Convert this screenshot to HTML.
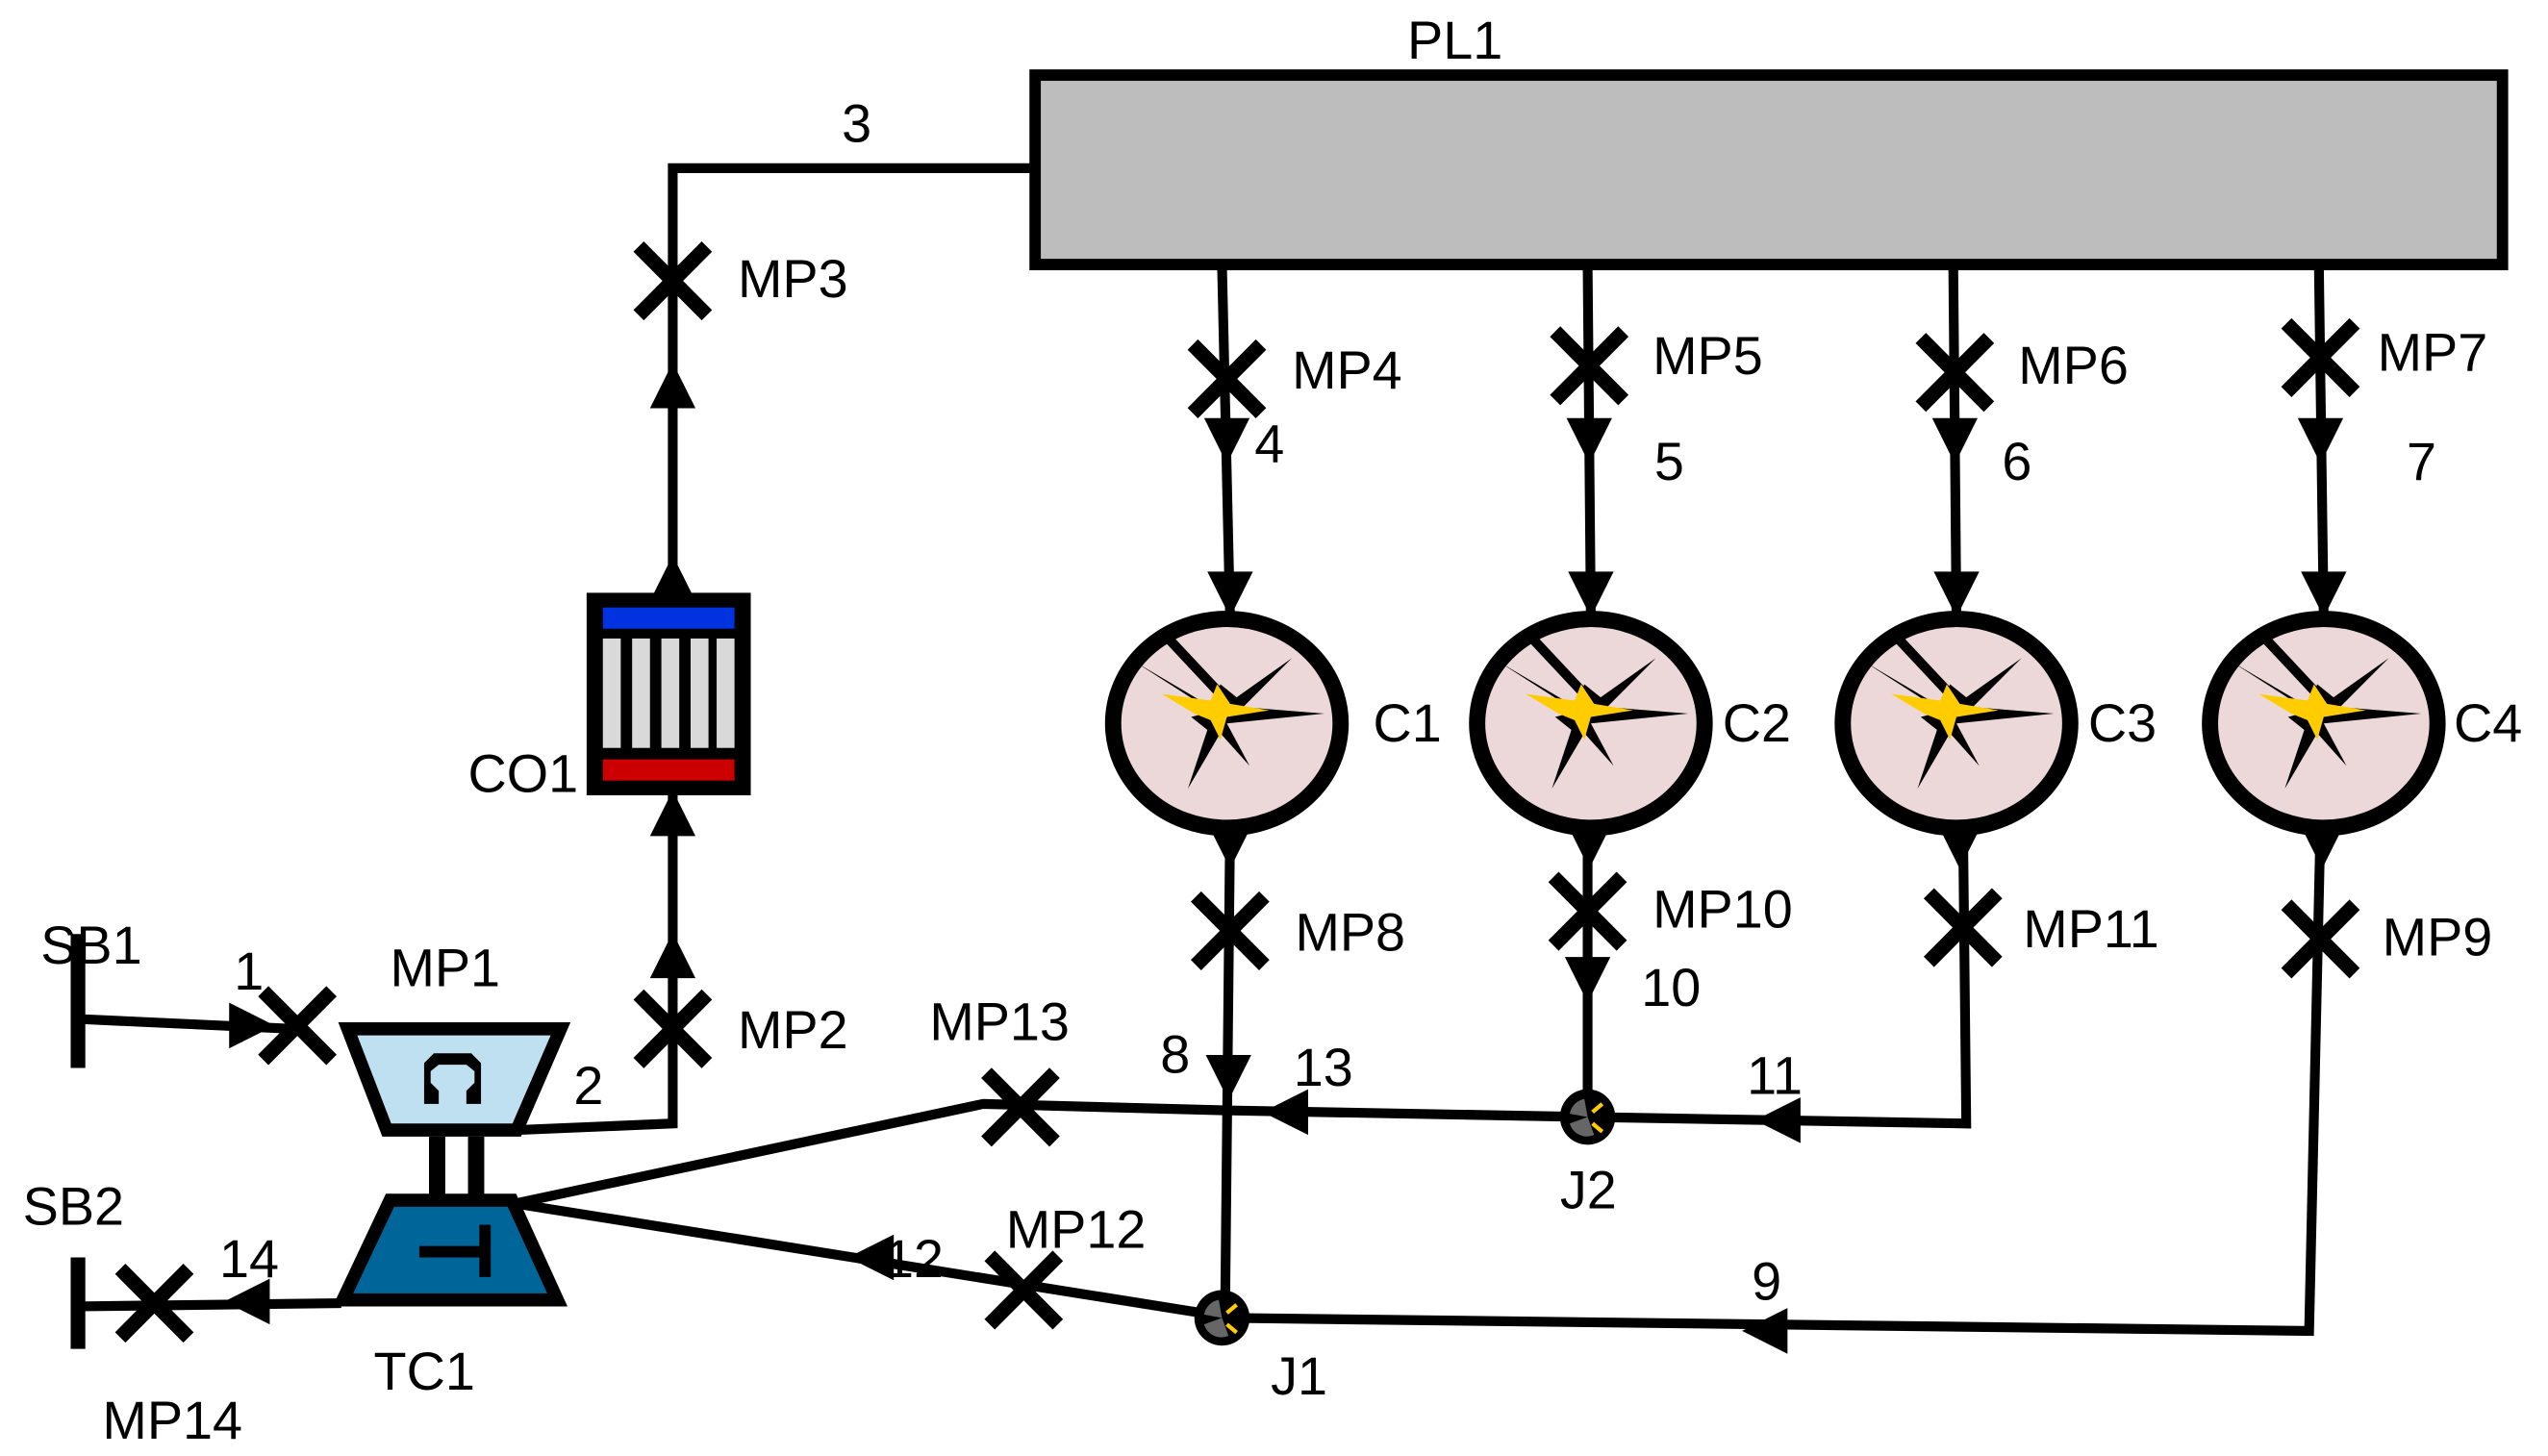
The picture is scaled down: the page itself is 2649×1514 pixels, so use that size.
<!DOCTYPE html>
<html><head><meta charset="utf-8"><style>
html,body{margin:0;padding:0;background:#fff;}
svg{display:block;}
text{font-family:"Liberation Sans",Arial,sans-serif;font-size:33px;fill:#000;}
</style></head><body>
<svg width="2649" height="1514" viewBox="0 0 1568 891.6" preserveAspectRatio="none" xmlns="http://www.w3.org/2000/svg">
<defs>
<g id="x"><line x1="-21" y1="-21" x2="21" y2="21" stroke="#000" stroke-width="9"/><line x1="21" y1="-21" x2="-21" y2="21" stroke="#000" stroke-width="9"/></g>
<polygon id="ad" points="-14,-14 14,-14 0,14" fill="#000"/>
<polygon id="au" points="-14,14 14,14 0,-14" fill="#000"/>
<polygon id="al" points="14,-14 14,14 -14,0" fill="#000"/>
<polygon id="ar" points="-14,-14 -14,14 14,0" fill="#000"/>
<g id="comb">
<ellipse cx="0" cy="0" rx="70" ry="64" fill="#ecd8d8" stroke="#000" stroke-width="10"/>
<polygon points="-57,-38 -10,-8 -4,-24 6,-16 40,-40 10,-10 60,-6 0,0 14,26 -4,6 -24,40 -12,4 -22,-4 -6,-8" fill="#000"/>
<line x1="-36" y1="-52" x2="-4" y2="-18" stroke="#000" stroke-width="6" stroke-linecap="round"/>
<polygon points="-40,-18 -10,-14 -6,-24 2,-12 26,-8 0,-4 -4,10 -10,-2 -20,-6" fill="#ffcc00"/>
</g>
<g id="junc">
<circle r="17" fill="#000"/>
<path d="M0,0 L-11,-2 A11,11 0 0 1 -2,-11 Z" fill="#666"/>
<path d="M0,0 L-11,4 A11,11 0 0 0 4,11 Z" fill="#666"/>
<line x1="3" y1="-3" x2="9" y2="-8" stroke="#ffcc00" stroke-width="2.5"/>
<line x1="3" y1="4" x2="9" y2="9" stroke="#ffcc00" stroke-width="2.5"/>
</g>
</defs>
<g stroke="#000" stroke-width="6" fill="none">
<polyline points="637,103 414,103 414,362"/>
<polyline points="318,692 414,688 414,487"/>
<line x1="752" y1="162" x2="757" y2="380"/>
<line x1="977" y1="162" x2="979" y2="380"/>
<line x1="1202" y1="162" x2="1204" y2="380"/>
<line x1="1427" y1="162" x2="1430" y2="380"/>
<line x1="757" y1="505" x2="754" y2="795"/>
<line x1="977" y1="505" x2="977" y2="672"/>
<polyline points="978,684 1210,688 1208,505"/>
<polyline points="317,737 605,676 757,680 978,684"/>
<line x1="317" y1="737" x2="752" y2="806"/>
<polyline points="752,807 1421,815 1428,505"/>
<line x1="48" y1="624" x2="180" y2="630"/>
<line x1="48" y1="800" x2="210" y2="798"/>
</g>
<line x1="48" y1="572" x2="48" y2="654" stroke="#000" stroke-width="9"/>
<line x1="48" y1="770" x2="48" y2="826" stroke="#000" stroke-width="9"/>
<rect x="637" y="46" width="903" height="116" fill="#bdbdbd" stroke="#000" stroke-width="7"/>
<rect x="361" y="363" width="101" height="124" fill="#000"/>
<rect x="371" y="372" width="81" height="13" fill="#0033e0"/>
<rect x="371" y="465" width="81" height="13" fill="#cc0000"/>
<g fill="#d9d9d9">
<rect x="371" y="391" width="11" height="67"/><rect x="389" y="391" width="11" height="67"/><rect x="407" y="391" width="11" height="67"/><rect x="425" y="391" width="11" height="67"/><rect x="441" y="391" width="11" height="67"/>
</g>
<polygon points="214,630 345,630 318,692 238,692" fill="#bfe0f0" stroke="#000" stroke-width="8" stroke-linejoin="miter"/>
<path d="M261,676 V651 L267,645 H290 L296,651 V676 H287 V668 L292,663 V656 L287,652 H270 L265,656 V663 L270,668 V676 Z" fill="#000"/>
<rect x="264" y="696" width="10" height="36" fill="#000"/>
<rect x="288" y="696" width="10" height="36" fill="#000"/>
<polygon points="240,735 315,735 343,796 211,796" fill="#006699" stroke="#000" stroke-width="8"/>
<rect x="258" y="763" width="42" height="7" fill="#000"/>
<rect x="295" y="750" width="7" height="32" fill="#000"/>
<use href="#comb" x="755" y="443"/>
<use href="#comb" x="979" y="443"/>
<use href="#comb" x="1204" y="443"/>
<use href="#comb" x="1430" y="443"/>
<use href="#junc" x="977" y="684"/>
<use href="#junc" x="752" y="807"/>
<use href="#x" x="414" y="172"/>
<use href="#x" x="414" y="630"/>
<use href="#x" x="183" y="628"/>
<use href="#x" x="95" y="798"/>
<use href="#x" x="755" y="232"/>
<use href="#x" x="978" y="224"/>
<use href="#x" x="1203" y="228"/>
<use href="#x" x="1428" y="219"/>
<use href="#x" x="757" y="570"/>
<use href="#x" x="977" y="558"/>
<use href="#x" x="1208" y="568"/>
<use href="#x" x="1428" y="575"/>
<use href="#x" x="628" y="678"/>
<use href="#x" x="630" y="790"/>
<use href="#au" x="414" y="236"/>
<use href="#au" x="414" y="354"/>
<use href="#au" x="414" y="585"/>
<use href="#au" x="414" y="498"/>
<use href="#ar" x="155" y="628"/>
<use href="#al" x="152" y="797"/>
<use href="#ad" x="755" y="270"/>
<use href="#ad" x="978" y="270"/>
<use href="#ad" x="1203" y="270"/>
<use href="#ad" x="1428" y="270"/>
<use href="#ad" x="757" y="364"/>
<use href="#ad" x="979" y="364"/>
<use href="#ad" x="1204" y="364"/>
<use href="#ad" x="1430" y="364"/>
<use href="#ad" x="757" y="518"/>
<use href="#ad" x="978" y="518"/>
<use href="#ad" x="1206" y="518"/>
<use href="#ad" x="1429" y="518"/>
<use href="#ad" x="756" y="660"/>
<use href="#ad" x="977" y="600"/>
<use href="#al" x="791" y="681"/>
<use href="#al" x="1094" y="686"/>
<use href="#al" x="536" y="770"/>
<use href="#al" x="1086" y="815"/>
<text x="866" y="36">PL1</text>
<text x="518" y="87">3</text>
<text x="454" y="182">MP3</text>
<text x="454" y="642">MP2</text>
<text x="288" y="485">CO1</text>
<text x="353" y="676">2</text>
<text x="240" y="604">MP1</text>
<text x="144" y="606">1</text>
<text x="25" y="590">SB1</text>
<text x="14" y="750">SB2</text>
<text x="135" y="782">14</text>
<text x="63" y="881">MP14</text>
<text x="230" y="851">TC1</text>
<text x="795" y="238">MP4</text>
<text x="1017" y="229">MP5</text>
<text x="1242" y="235">MP6</text>
<text x="1463" y="227">MP7</text>
<text x="772" y="283">4</text>
<text x="1018" y="294">5</text>
<text x="1232" y="294">6</text>
<text x="1481" y="294">7</text>
<text x="845" y="454">C1</text>
<text x="1060" y="454">C2</text>
<text x="1285" y="454">C3</text>
<text x="1510" y="454">C4</text>
<text x="797" y="582">MP8</text>
<text x="1017" y="568">MP10</text>
<text x="1245" y="580">MP11</text>
<text x="1466" y="585">MP9</text>
<text x="1010" y="616">10</text>
<text x="714" y="657">8</text>
<text x="796" y="665">13</text>
<text x="1075" y="670">11</text>
<text x="572" y="637">MP13</text>
<text x="619" y="764">MP12</text>
<text x="544" y="782">12</text>
<text x="960" y="740">J2</text>
<text x="1078" y="796">9</text>
<text x="782" y="854">J1</text>
</svg>
</body></html>
